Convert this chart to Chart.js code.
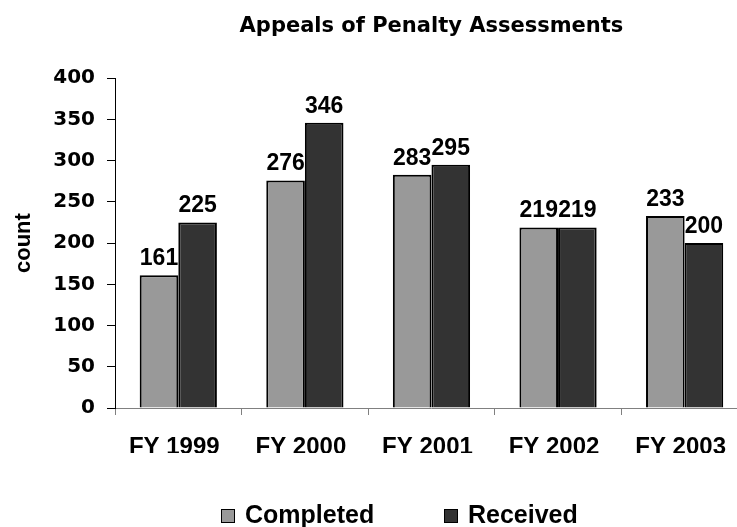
<!DOCTYPE html>
<html>
<head>
<meta charset="utf-8">
<script src="https://cdn.jsdelivr.net/npm/chart.js@4/dist/chart.umd.min.js"></script>
<style>
  html, body { margin: 0; padding: 0; background: #fff; overflow: hidden; }
  /* the original is cropped: the plot runs a few pixels past the right edge */
  #wrap { width: 737px; height: 527px; overflow: hidden; }
</style>
</head>
<body>
<div id="wrap"><canvas id="appeals" width="748" height="527"></canvas></div>
<script>
// Appeals of Penalty Assessments — completed vs received per fiscal year
const years = ['FY 1999', 'FY 2000', 'FY 2001', 'FY 2002', 'FY 2003'];
const completed = [161, 276, 283, 219, 233];
const received = [225, 346, 295, 219, 200];
const seriesNames = ['Completed', 'Received'];
const seriesColors = ['#999999', '#333333'];

const ARIAL = "'Liberation Sans', Arial, sans-serif";
const WIDE = "'DejaVu Sans', sans-serif";

// value labels above every bar
const barValues = {
  id: 'barValues',
  afterDatasetsDraw(chart) {
    const ctx = chart.ctx;
    ctx.save();
    ctx.font = 'bold 23px ' + ARIAL;
    ctx.fillStyle = '#000';
    ctx.textAlign = 'center';
    ctx.textBaseline = 'alphabetic';
    chart.data.datasets.forEach((ds, i) => {
      chart.getDatasetMeta(i).data.forEach((bar, j) => {
        ctx.fillText(String(ds.data[j]), bar.x, bar.y - 10);
      });
    });
    ctx.restore();
  }
};

// legend drawn the old Excel way: small square + bold name
const bottomLegend = {
  id: 'bottomLegend',
  afterDraw(chart) {
    const ctx = chart.ctx;
    const spots = [221, 444];
    ctx.save();
    ctx.font = 'bold 25px ' + ARIAL;
    ctx.textBaseline = 'alphabetic';
    chart.data.datasets.forEach((ds, i) => {
      const x = spots[i];
      ctx.fillStyle = ds.backgroundColor;
      ctx.fillRect(x, 509, 14, 14);
      ctx.strokeStyle = '#000';
      ctx.lineWidth = 1;
      ctx.strokeRect(x + 0.5, 509.5, 13, 13);
      ctx.fillStyle = '#000';
      ctx.fillText(ds.label, x + 24, 523);
    });
    ctx.restore();
  }
};

new Chart(document.getElementById('appeals'), {
  type: 'bar',
  data: {
    labels: years,
    datasets: [
      { label: seriesNames[0], data: completed, backgroundColor: seriesColors[0] },
      { label: seriesNames[1], data: received, backgroundColor: seriesColors[1] }
    ]
  },
  options: {
    responsive: false,
    animation: false,
    devicePixelRatio: 1,
    layout: { padding: { top: 0, left: 0, right: 0, bottom: 74 } },
    datasets: {
      bar: {
        borderColor: '#000',
        borderWidth: 2,
        categoryPercentage: 0.61,
        barPercentage: 1
      }
    },
    plugins: {
      legend: { display: false },
      tooltip: { enabled: false },
      title: {
        display: true,
        text: 'Appeals of Penalty Assessments',
        fullSize: false,
        color: '#000',
        font: { family: WIDE, size: 21, weight: 'bold' },
        padding: { top: 14, bottom: 39 }
      }
    },
    scales: {
      x: {
        grid: { drawOnChartArea: false, drawTicks: true, tickLength: 7, offset: true, color: '#808080' },
        border: { color: '#808080', width: 1 },
        ticks: { color: '#000', font: { family: ARIAL, size: 24, weight: 'bold' }, padding: 18, labelOffset: -4 },
        afterFit(scale) { scale.height = 45; }
      },
      y: {
        min: 0,
        max: 400,
        ticks: { stepSize: 50, color: '#000', font: { family: WIDE, size: 20, weight: 'bold' }, padding: 12 },
        grid: { drawOnChartArea: false, drawTicks: true, tickLength: 8, color: '#000' },
        border: { color: '#000', width: 1 },
        title: {
          display: true,
          text: 'count',
          color: '#000',
          font: { family: ARIAL, size: 22, weight: 'bold' },
          padding: { top: 11, bottom: 0 }
        },
        afterFit(scale) { scale.width = 115; }
      }
    }
  },
  plugins: [barValues, bottomLegend]
});
</script>
</body>
</html>
